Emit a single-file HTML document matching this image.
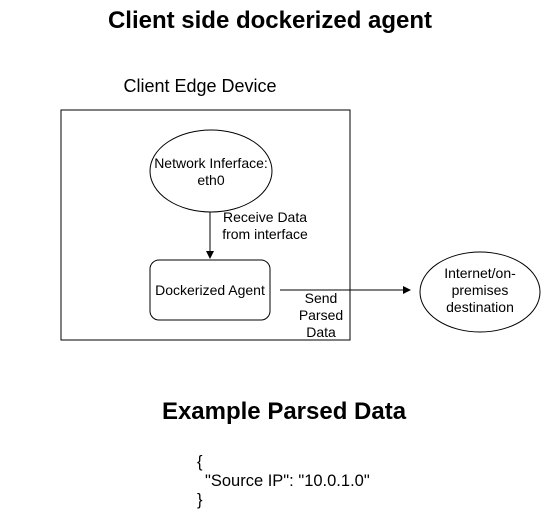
<!DOCTYPE html>
<html><head><style>body{margin:0;background:#fff}</style></head><body>
<svg width="541" height="520" xmlns="http://www.w3.org/2000/svg" font-family="Liberation Sans, Arial, sans-serif">
<rect width="541" height="520" fill="#fff"/>
<text x="270" y="28" text-anchor="middle" font-size="24" font-weight="bold">Client side dockerized agent</text>
<text x="200" y="92" text-anchor="middle" font-size="18">Client Edge Device</text>
<rect x="61" y="110" width="289" height="230" fill="none" stroke="#000"/>
<ellipse cx="211" cy="171" rx="61" ry="41" fill="#fff" stroke="#000"/>
<text x="211" y="168" text-anchor="middle" font-size="14">Network Inferface:</text>
<text x="211" y="185" text-anchor="middle" font-size="14">eth0</text>
<line x1="210" y1="212" x2="210" y2="252" stroke="#000"/>
<path d="M206,251 L210,259 L214,251 Z" fill="#000"/>
<text x="265" y="222" text-anchor="middle" font-size="14">Receive Data</text>
<text x="265" y="239" text-anchor="middle" font-size="14">from interface</text>
<rect x="150" y="260" width="120" height="60" rx="9" fill="#fff" stroke="#000"/>
<text x="210" y="295" text-anchor="middle" font-size="14">Dockerized Agent</text>
<line x1="280" y1="290" x2="405" y2="290" stroke="#000"/>
<path d="M403,286 L411,290 L403,294 Z" fill="#000"/>
<text x="321" y="303" text-anchor="middle" font-size="14">Send</text>
<text x="321" y="320" text-anchor="middle" font-size="14">Parsed</text>
<text x="321" y="337" text-anchor="middle" font-size="14">Data</text>
<ellipse cx="480" cy="292" rx="60" ry="40" fill="#fff" stroke="#000"/>
<text x="480" y="278" text-anchor="middle" font-size="14">Internet/on-</text>
<text x="480" y="295" text-anchor="middle" font-size="14">premises</text>
<text x="480" y="312" text-anchor="middle" font-size="14">destination</text>
<text x="284" y="419" text-anchor="middle" font-size="24" font-weight="bold">Example Parsed Data</text>
<text x="197" y="467" font-size="16.5">{</text>
<text x="205" y="486" font-size="16.5">"Source IP": "10.0.1.0"</text>
<text x="197" y="505" font-size="16.5">}</text>
</svg>
</body></html>
